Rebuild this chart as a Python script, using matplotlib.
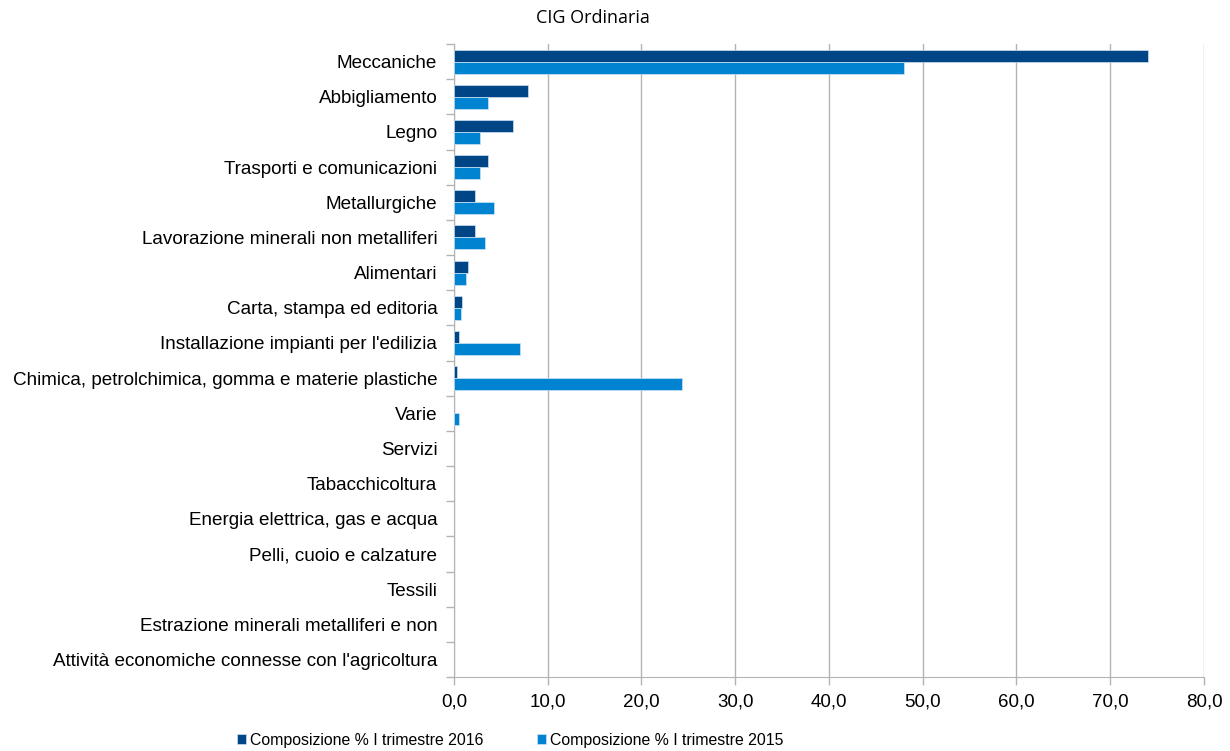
import matplotlib.pyplot as plt
import numpy as np

# data
categories = ['Meccaniche', 'Abbigliamento', 'Legno', 'Trasporti e comunicazioni',
              'Metallurgiche', 'Lavorazione minerali non metalliferi', 'Alimentari',
              'Carta, stampa ed editoria', "Installazione impianti per l'edilizia",
              'Chimica, petrolchimica, gomma e materie plastiche', 'Varie', 'Servizi',
              'Tabacchicoltura', 'Energia elettrica, gas e acqua', 'Pelli, cuoio e calzature',
              'Tessili', 'Estrazione minerali metalliferi e non',
              "Attività economiche connesse con l'agricoltura"]
q1_2016 = [74.0, 7.9, 6.3, 3.6, 2.2, 2.2, 1.5, 0.9, 0.5, 0.3, 0, 0, 0, 0, 0, 0, 0, 0]
q1_2015 = [48.0, 3.6, 2.8, 2.8, 4.3, 3.3, 1.3, 0.8, 7.0, 24.3, 0.5, 0, 0, 0, 0, 0, 0, 0]
series_names = ['Composizione % I trimestre 2016', 'Composizione % I trimestre 2015']
xticks = np.arange(0, 81, 10)

dark = '#004586'
light = '#0084d1'
grid_col = '#b3b3b3'

plt.rcParams['font.family'] = 'Liberation Sans'

fig = plt.figure(figsize=(12.3, 7.51), dpi=100)
ax = fig.add_axes([454 / 1230, 1 - 677 / 751, 750 / 1230, 633 / 751])

y = np.arange(len(categories))
h = 0.34
for vals, off, col, name in [(q1_2016, -h / 2, dark, series_names[0]),
                             (q1_2015, h / 2, light, series_names[1])]:
    edges = ['#cfe3f3' if v > 0 else 'none' for v in vals]
    ax.barh(y + off, vals, height=h, color=col, edgecolor=edges, linewidth=0.5,
            label=name, zorder=3)

ax.set_ylim(len(categories) - 0.5, -0.5)
ax.set_xlim(0, 80)
ax.set_xticks(xticks)
ax.set_xticklabels([f'{v:.1f}'.replace('.', ',') for v in xticks], fontsize=13.5)
ax.set_yticks(y)
ax.set_yticklabels(categories, fontsize=13.6)
ax.set_yticks(np.arange(-0.5, len(categories), 1), minor=True)
ax.tick_params(axis='y', which='major', length=0, pad=12)
ax.tick_params(axis='y', which='minor', length=6, color=grid_col, width=1)
ax.tick_params(axis='x', length=6, color=grid_col, width=1, pad=6)

ax.grid(axis='x', color=grid_col, linewidth=1, zorder=0)
for s in ['top', 'right']:
    ax.spines[s].set_visible(False)
ax.spines['left'].set_color(grid_col)
ax.spines['bottom'].set_color(grid_col)

fig.text(593 / 1230, 1 - 18 / 751, 'CIG Ordinaria', fontsize=13, family='Open Sans',
         ha='center', va='center')

fig.legend(loc='center left', bbox_to_anchor=(231 / 1230, 1 - 740 / 751), ncol=2,
           frameon=False, fontsize=11.4, handlelength=0.55, handleheight=0.55,
           handletextpad=0.25, columnspacing=3.4, borderaxespad=0)

fig.savefig('out.png', dpi=100)
